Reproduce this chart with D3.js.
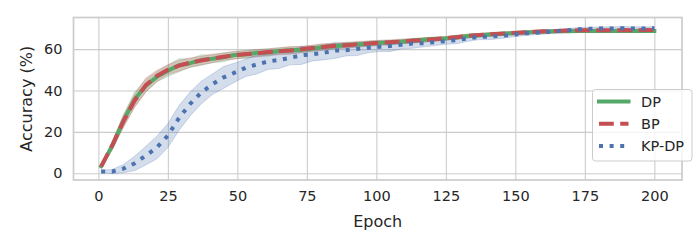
<!DOCTYPE html>
<html>
<head>
<meta charset="utf-8">
<script src="https://cdn.jsdelivr.net/npm/d3@7"></script>
<style>
  html, body { margin: 0; padding: 0; background: #fff; }
  svg { display: block; font-family: "DejaVu Sans", sans-serif; }
</style>
</head>
<body>
<svg id="chart" width="700" height="250"></svg>
<script>
const epochs = [1,5,9,13,17,21,25,29,33,37,41,45,49,53,57,61,65,69,73,77,81,85,89,93,97,101,105,109,113,117,121,125,129,133,137,141,145,149,153,157,161,165,169,173,177,181,185,189,193,197,200];

const dpMean = [3.4,13.2,25.4,35.6,42.2,46.6,49.6,52.2,53.2,54.7,55.3,56.1,57.2,57.4,58.2,58.4,59.1,59.5,59.7,60.3,61.1,61.4,62,62.2,62.6,63.1,63.2,63.6,64,64.5,64.9,65.2,65.7,66.3,66.7,67.1,67.4,67.7,68,68.3,68.5,68.6,68.7,68.8,68.8,68.8,68.8,68.9,68.8,68.9,68.8];
const dpStd = [0.8,1.8,2.8,3.6,3.0,2.4,2.8,3.2,2.0,2.6,1.8,2.2,1.7,2.0,1.6,1.8,1.5,1.7,1.4,1.6,1.4,1.2,1.4,1.1,1.3,1.1,1.2,1.0,1.1,1.0,1.0,0.9,1.0,0.9,0.9,0.8,0.9,0.8,0.8,0.7,0.7,0.7,0.7,0.6,0.6,0.6,0.6,0.6,0.6,0.6,0.6];

const bpMean = [3.2,13.5,25,35,42.5,47,50,52,53.5,54.5,55.5,56.3,57,57.6,58,58.6,59,59.3,59.9,60.5,61,61.6,61.9,62.3,62.7,63,63.3,63.7,64.1,64.4,64.8,65.3,65.8,66.4,66.8,67.2,67.5,67.8,68.1,68.4,68.6,68.8,69,69.1,69.1,69.1,69.1,69.2,69.1,69.2,69.2];
const bpStd = [0.9,2.0,3.0,3.2,3.4,2.8,2.3,2.6,2.3,2.0,2.1,1.7,1.9,1.6,1.8,1.5,1.7,1.8,1.5,1.4,1.6,1.4,1.3,1.4,1.2,1.3,1.1,1.2,1.0,1.1,1.0,0.9,1.0,0.9,0.8,0.9,0.8,0.8,0.7,0.8,0.7,0.7,0.6,0.7,0.6,0.6,0.6,0.6,0.6,0.6,0.6];

const kpMean = [0.8,0.8,2.2,4.7,8.4,12.4,18.2,26.7,33.5,39,43,46.3,48.6,51,52.6,54,54.8,55.8,57,57.5,58.2,59.3,59.5,60.1,60.7,61.1,61.5,62.1,62.7,62.9,63.4,63.9,64.4,65.2,65.9,66.1,66.4,67,67.6,67.9,68.3,68.7,69.1,69.6,69.8,70,70,70.1,70,70,70.1];
const kpStd = [0.6,1.0,2.0,3.5,4.5,5.5,5.8,6.0,5.8,5.5,5.0,5.3,4.6,4.2,4.6,3.8,4.2,3.4,4.4,3.2,3.4,3.8,2.8,3.2,2.5,2.3,2.6,2.0,2.3,1.8,1.7,1.5,1.8,1.4,1.3,1.5,1.2,1.1,1.1,1.0,1.0,0.9,0.9,0.9,0.8,0.8,0.8,0.8,0.8,0.8,0.8];

const seriesNames = ["DP", "BP", "KP-DP"];
const xTicks = [0,25,50,75,100,125,150,175,200];
const yTicks = [0,20,40,60];
const xLabel = "Epoch";
const yLabel = "Accuracy (%)";

const series = [
  {name: seriesNames[0], mean: dpMean, std: dpStd, color: "#55A868", dash: null},
  {name: seriesNames[1], mean: bpMean, std: bpStd, color: "#C44E52", dash: "14.8,6.4"},
  {name: seriesNames[2], mean: kpMean, std: kpStd, color: "#4C72B0", dash: "4,6.6"}
];

const svg = d3.select("#chart");
const pL = 73.5, pR = 682, pT = 17.5, pB = 180;
const x = d3.scaleLinear().domain([-8.95, 209.95]).range([pL, pR]);
const y = d3.scaleLinear().domain([-3.3, 75.3]).range([pB, pT]);
const textColor = "#262626";
const gridColor = "#cccccc";

// grid
const gx = svg.append("g")
  .attr("transform", `translate(0,${pB})`)
  .call(d3.axisBottom(x).tickValues(xTicks).tickSize(-(pB - pT)).tickPadding(11));
const gy = svg.append("g")
  .attr("transform", `translate(${pL},0)`)
  .call(d3.axisLeft(y).tickValues(yTicks).tickSize(-(pR - pL)).tickPadding(11));
[gx, gy].forEach(g => {
  g.select(".domain").remove();
  g.selectAll(".tick line").attr("stroke", gridColor).attr("stroke-width", 1.1);
  g.selectAll(".tick text").attr("fill", textColor).style("font-size", "14.5px").style("font-family", "DejaVu Sans");
});
gx.selectAll(".tick text").attr("dy", "0.71em");

// spines
svg.append("rect").attr("x", pL).attr("y", pT).attr("width", pR - pL).attr("height", pB - pT)
  .attr("fill", "none").attr("stroke", gridColor).attr("stroke-width", 1.7);

// plot clip
svg.append("clipPath").attr("id", "clip").append("rect")
  .attr("x", pL).attr("y", pT).attr("width", pR - pL).attr("height", pB - pT);
const plot = svg.append("g").attr("clip-path", "url(#clip)");

const area = d3.area()
  .x((d, i) => x(epochs[i]))
  .y0(d => y(d.m - d.s))
  .y1(d => y(d.m + d.s));
const line = d3.line().x((d, i) => x(epochs[i])).y(d => y(d));

series.forEach(s => {
  const pts = s.mean.map((m, i) => ({m: m, s: s.std[i]}));
  plot.append("path").datum(pts).attr("d", area)
    .attr("fill", s.color).attr("fill-opacity", 0.24)
    .attr("stroke", s.color).attr("stroke-opacity", 0.24).attr("stroke-width", 1);
});
series.forEach(s => {
  const p = plot.append("path").datum(s.mean).attr("d", line)
    .attr("fill", "none").attr("stroke", s.color).attr("stroke-width", 4)
    .attr("stroke-linejoin", "round");
  if (s.dash) p.attr("stroke-dasharray", s.dash).attr("stroke-linecap", "butt");
  else p.attr("stroke-linecap", "square");
});

// axis labels
svg.append("text").attr("x", (pL + pR) / 2).attr("y", 227)
  .attr("text-anchor", "middle").attr("fill", textColor)
  .style("font-size", "16px").text(xLabel);
svg.append("text")
  .attr("transform", `translate(32,${(pT + pB) / 2}) rotate(-90)`)
  .attr("text-anchor", "middle").attr("fill", textColor)
  .style("font-size", "16px").text(yLabel);

// legend
const lg = svg.append("g");
lg.append("rect").attr("x", 592.5).attr("y", 89.5).attr("width", 99.5).attr("height", 71.5)
  .attr("rx", 3).attr("fill", "#fff").attr("fill-opacity", 0.8)
  .attr("stroke", gridColor).attr("stroke-width", 1);
series.forEach((s, i) => {
  const yy = 101.5 + i * 22.3;
  const l = lg.append("line").attr("x1", 599).attr("x2", 628.5).attr("y1", yy).attr("y2", yy)
    .attr("stroke", s.color).attr("stroke-width", 4);
  if (s.dash) l.attr("stroke-dasharray", s.dash).attr("stroke-linecap", "butt");
  else l.attr("stroke-linecap", "square");
  lg.append("text").attr("x", 641).attr("y", yy).attr("dy", "0.36em")
    .attr("fill", textColor).style("font-size", "14.5px").text(s.name);
});
</script>
</body>
</html>
